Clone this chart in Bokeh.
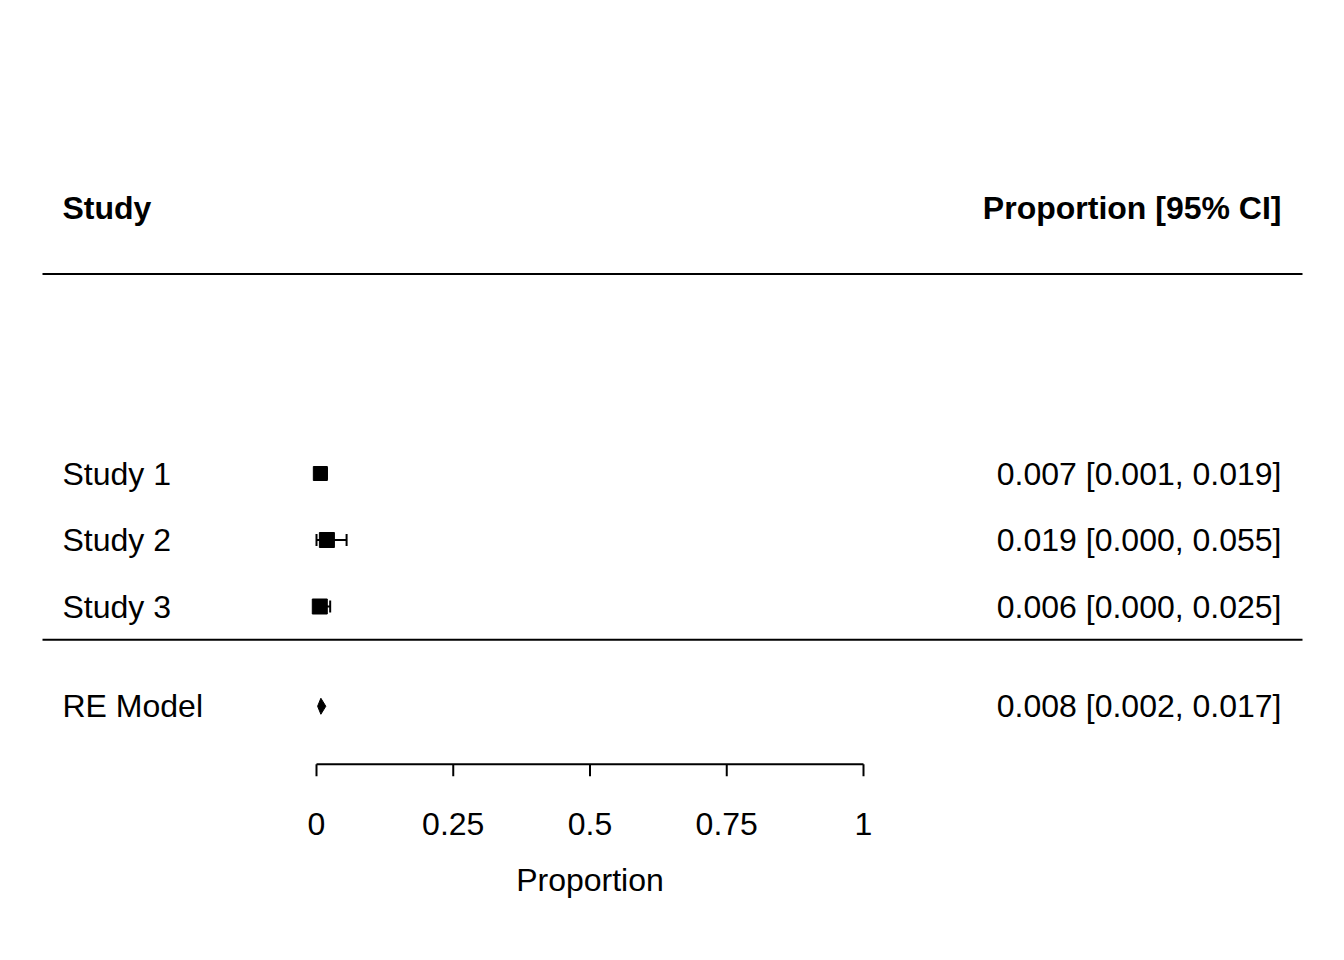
from bokeh.plotting import figure
from bokeh.models import Range1d
from bokeh.core.properties import value
from bokeh.embed import file_html
from bokeh.resources import INLINE

studies = ["Study 1", "Study 2", "Study 3"]
est = [0.007, 0.019, 0.006]
lo = [0.001, 0.000, 0.000]
hi = [0.019, 0.055, 0.025]
sq_size = [14, 15, 15]
labels = ["0.007 [0.001, 0.019]", "0.019 [0.000, 0.055]", "0.006 [0.000, 0.025]"]
re_est, re_lo, re_hi = 0.008, 0.002, 0.017
re_label = "0.008 [0.002, 0.017]"
ticks = [0, 0.25, 0.5, 0.75, 1]
tick_labels = ["0", "0.25", "0.5", "0.75", "1"]

rows = [3, 2, 1]
re_row = -0.5
px = 66.5  # pixels per row
xpx = 547.0  # pixels per unit proportion

FONT = value("Liberation Sans")
FS = "32px"

p = figure(width=1328, height=944, output_backend="svg", toolbar_location=None,
           x_range=Range1d(-316 / xpx, (1328 - 316) / xpx),
           y_range=Range1d(3 - (944 - 473) / px, 3 + 473 / px),
           min_border=0)
p.axis.visible = False
p.grid.visible = False
p.outline_line_color = None

xl = (62 - 316) / xpx
xr = (1281 - 316) / xpx
line_l = (42 - 316) / xpx
line_r = (1302 - 316) / xpx

# headers
p.text([xl], [7], text=["Study"], text_font=FONT, text_font_size=FS,
       text_font_style="bold", text_baseline="middle", text_align="left")
p.text([xr], [7], text=["Proportion [95% CI]"], text_font=FONT, text_font_size=FS,
       text_font_style="bold", text_baseline="middle", text_align="right")
p.segment([line_l, line_l], [6, 0.5], [line_r, line_r], [6, 0.5], line_color="black", line_width=2)

# studies
p.text([xl] * 3, rows, text=studies, text_font=FONT, text_font_size=FS,
       text_baseline="middle", text_align="left")
p.text([xr] * 3, rows, text=labels, text_font=FONT, text_font_size=FS,
       text_baseline="middle", text_align="right")
p.segment(lo, rows, hi, rows, line_color="black", line_width=2)
cap = 6 / px
p.segment(lo, [r - cap for r in rows], lo, [r + cap for r in rows], line_color="black", line_width=2)
p.segment(hi, [r - cap for r in rows], hi, [r + cap for r in rows], line_color="black", line_width=2)
p.scatter(est, rows, marker="square", size=sq_size, color="black")

# RE model
p.text([xl], [re_row], text=["RE Model"], text_font=FONT, text_font_size=FS,
       text_baseline="middle", text_align="left")
p.text([xr], [re_row], text=[re_label], text_font=FONT, text_font_size=FS,
       text_baseline="middle", text_align="right")
dh = 8 / px
p.patch([re_lo, re_est, re_hi, re_est], [re_row, re_row + dh, re_row, re_row - dh],
        color="black")

# x axis
ay = -0.5 - 58 / px
p.segment([ticks[0]], [ay], [ticks[-1]], [ay], line_color="black", line_width=2)
p.segment(ticks, [ay] * 5, ticks, [ay - 12 / px] * 5, line_color="black", line_width=2)
p.text(ticks, [ay - 60 / px] * 5, text=tick_labels, text_font=FONT, text_font_size=FS,
       text_baseline="middle", text_align="center")
p.text([0.5], [ay - 116 / px], text=["Proportion"], text_font=FONT, text_font_size=FS,
       text_baseline="middle", text_align="center")

open("out.html", "w").write(file_html(p, INLINE))
